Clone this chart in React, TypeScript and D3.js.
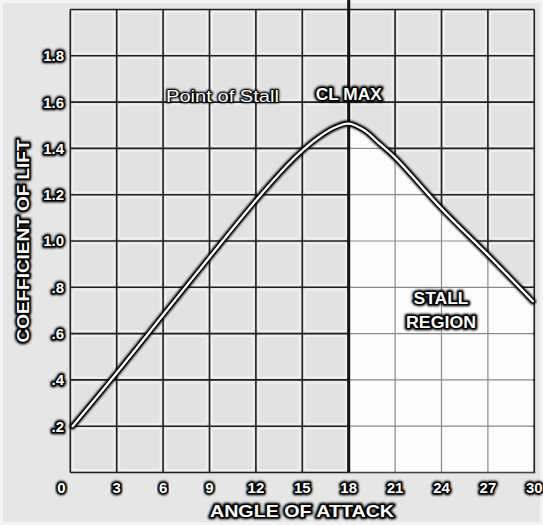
import React from "react";
import * as d3 from "d3";

const W = 543;
const H = 525;

// Data
const angles = [0.15, 3, 6, 9, 12, 14, 15, 16, 17, 18, 19, 20, 21, 24, 27, 29.9];
const liftCoeff = [0.2, 0.43, 0.68, 0.93, 1.175, 1.325, 1.39, 1.445, 1.487, 1.507, 1.478, 1.42, 1.36, 1.14, 0.94, 0.74];
const xTicks = [0, 3, 6, 9, 12, 15, 18, 21, 24, 27, 30];
const yTicks = [0.2, 0.4, 0.6, 0.8, 1.0, 1.2, 1.4, 1.6, 1.8];
const yTickLabels = [".2", ".4", ".6", ".8", "1.0", "1.2", "1.4", "1.6", "1.8"];
const stallAngle = 18;

const x = d3.scaleLinear().domain([0, 30]).range([70.3, 534.3]);
const y = d3.scaleLinear().domain([0, 2]).range([472.5, 9.5]);

const pts = angles.map((a, i) => ({ a, c: liftCoeff[i] }));
const lineGen = d3
  .line<{ a: number; c: number }>()
  .x((d) => x(d.a))
  .y((d) => y(d.c))
  .curve(d3.curveCatmullRom.alpha(0.5));
const areaGen = d3
  .area<{ a: number; c: number }>()
  .x((d) => x(d.a))
  .y0(y(0) + 2)
  .y1((d) => y(d.c))
  .curve(d3.curveCatmullRom.alpha(0.5));

type TProps = {
  x?: number;
  y?: number;
  dy?: string;
  anchor?: string;
  size: number;
  bold?: boolean;
  len?: number;
  sw: number;
  transform?: string;
  children: React.ReactNode;
};

function OText({ x: tx, y: ty, dy, anchor, size, bold, len, sw, transform, children }: TProps) {
  const common: any = {
    x: tx,
    y: ty,
    dy,
    textAnchor: anchor || "start",
    fontSize: size,
    fontWeight: bold ? "bold" : "normal",
    transform,
  };
  if (len) {
    common.textLength = len;
    common.lengthAdjust = "spacingAndGlyphs";
  }
  return (
    <g>
      <text {...common} fill="#000" stroke="#000" strokeWidth={sw} strokeLinejoin="round" filter="url(#soft)">
        {children}
      </text>
      <text {...common} fill="#000" stroke="#000" strokeWidth={sw * 0.55} strokeLinejoin="round">
        {children}
      </text>
      <text {...common} fill="#fff">
        {children}
      </text>
    </g>
  );
}

export default function App() {
  const xs = d3.range(0, 30, 3);
  const ys = d3.range(0, 10).map((i) => i * 0.2);
  const cells: React.ReactNode[] = [];
  xs.forEach((xv) => {
    ys.forEach((yv) => {
      const x0 = x(xv);
      const x1 = x(xv + 3);
      const y0 = y(yv + 0.2);
      const y1 = y(yv);
      cells.push(
        <rect
          key={`c${xv}-${yv}`}
          x={x0 + 2.5}
          y={y0 + 2.5}
          width={x1 - x0 - 5}
          height={y1 - y0 - 5}
          fill="#e2e2e2"
          stroke="#efefef"
          strokeWidth={2}
          rx={2}
        />
      );
    });
  });
  const gridX = d3.range(0, 31, 3);
  const gridY = d3.range(0, 11).map((i) => i * 0.2);
  const font = "'Liberation Sans', Arial, sans-serif";
  const d = lineGen(pts) || "";

  return (
    <svg
      width={W}
      height={H}
      style={{ position: "absolute", left: 0, top: 0 }}
      fontFamily={font}
    >
      <defs>
        <clipPath id="below">
          <path d={areaGen(pts) || ""} />
        </clipPath>
        <filter id="soft" x="-20%" y="-50%" width="140%" height="200%">
          <feGaussianBlur stdDeviation={1.1} />
        </filter>
        <filter id="softline" x="-10%" y="-10%" width="120%" height="120%">
          <feGaussianBlur stdDeviation={0.9} />
        </filter>
      </defs>
      <rect x={0} y={0} width={W} height={H} fill="#e6e6e6" />
      <rect x={1.5} y={1.5} width={W - 3} height={H - 3} fill="none" stroke="#f3f3f3" strokeWidth={3} />
      <rect x={x(0)} y={y(2)} width={x(30) - x(0)} height={y(0) - y(2)} fill="#e2e2e2" />
      {cells}
      {gridX.map((v) => (
        <line key={`gx${v}`} x1={x(v)} x2={x(v)} y1={y(2)} y2={y(0)} stroke="#1e1e1e" strokeWidth={1.6} />
      ))}
      {gridY.map((v) => (
        <line key={`gy${v}`} x1={x(0)} x2={x(30)} y1={y(v)} y2={y(v)} stroke="#1e1e1e" strokeWidth={1.6} />
      ))}
      <g clipPath="url(#below)">
        <rect
          x={x(stallAngle)}
          y={0}
          width={x(30) - x(stallAngle) + 1}
          height={y(0) + 1}
          fill="#fcfcfc"
        />
        {gridX
          .filter((v) => v > stallAngle)
          .map((v) => (
            <line key={`sx${v}`} x1={x(v)} x2={x(v)} y1={y(2)} y2={y(0)} stroke="#8a8a8a" strokeWidth={1.2} />
          ))}
        {gridY.map((v) => (
          <line key={`sy${v}`} x1={x(stallAngle)} x2={x(30)} y1={y(v)} y2={y(v)} stroke="#8a8a8a" strokeWidth={1.2} />
        ))}
      </g>
      <line x1={x(stallAngle)} x2={x(30) + 1} y1={y(0)} y2={y(0)} stroke="#444" strokeWidth={1.6} />
      <line x1={x(stallAngle)} x2={x(stallAngle)} y1={0} y2={y(0)} stroke="#111" strokeWidth={3} />
      <path d={d} fill="none" stroke="#000" strokeWidth={6.5} strokeLinecap="round" filter="url(#softline)" />
      <path d={d} fill="none" stroke="#000" strokeWidth={4.5} strokeLinecap="round" />
      <path d={d} fill="none" stroke="#fff" strokeWidth={2.4} strokeLinecap="round" />
      {yTicks.map((v, i) => (
        <OText key={`yl${v}`} x={64} y={y(v)} dy="0.36em" anchor="end" size={15} bold sw={4.5}>
          {yTickLabels[i]}
        </OText>
      ))}
      {xTicks.map((v) => (
        <OText key={`xl${v}`} x={x(v) - (v === 0 ? 9 : 0)} y={493} anchor="middle" size={15} bold sw={4.5}>
          {v}
        </OText>
      ))}
      <OText x={166} y={102} size={16} len={113} sw={2.5}>
        Point of Stall
      </OText>
      <OText x={x(stallAngle)} y={100} anchor="middle" size={16} bold len={66} sw={4.5}>
        CL MAX
      </OText>
      <OText x={441} y={304} anchor="middle" size={16} bold len={55} sw={4.5}>
        STALL
      </OText>
      <OText x={441} y={328} anchor="middle" size={16} bold len={70} sw={4.5}>
        REGION
      </OText>
      <OText x={302} y={517} anchor="middle" size={17} bold len={184} sw={4.5}>
        ANGLE OF ATTACK
      </OText>
      <OText
        transform={`translate(29, ${(y(0) + y(2)) / 2}) rotate(-90)`}
        anchor="middle"
        size={16}
        bold
        len={203}
        sw={4.5}
      >
        COEFFICIENT OF LIFT
      </OText>
    </svg>
  );
}
